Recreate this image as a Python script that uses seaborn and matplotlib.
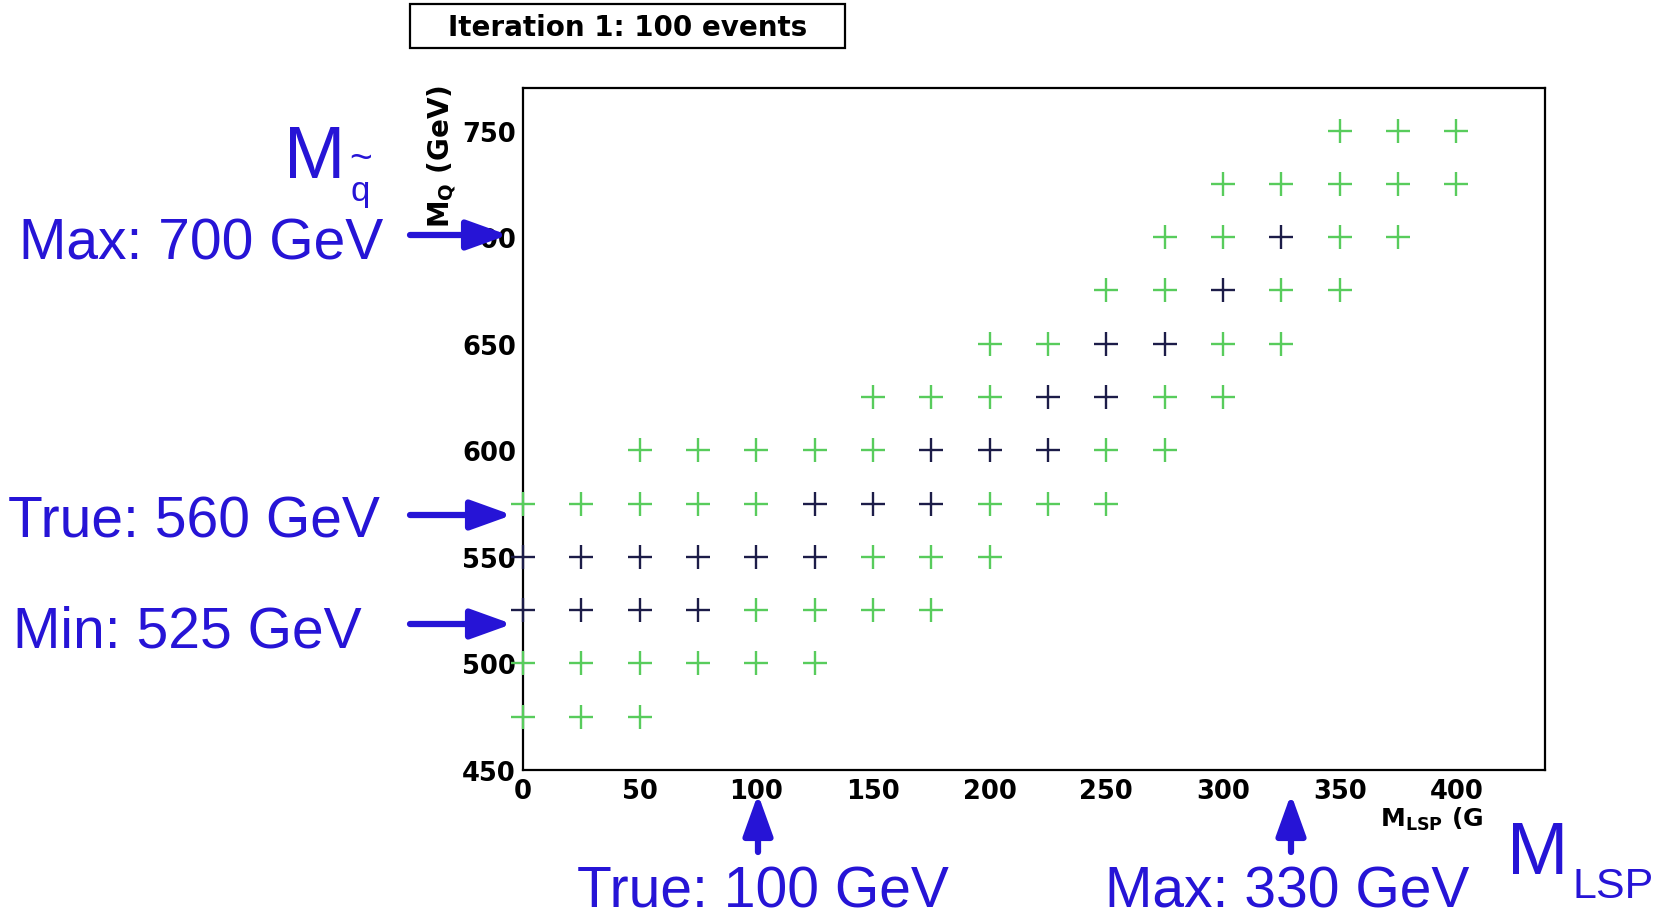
import matplotlib
matplotlib.use("Agg")
import matplotlib.pyplot as plt
from matplotlib.ticker import MultipleLocator
from matplotlib.patches import Rectangle
import pandas as pd
import seaborn as sns

# ---------------- data ----------------
m_lsp = [350, 375, 400,
         300, 325, 350, 375, 400,
         275, 300, 325, 350, 375,
         250, 275, 300, 325, 350,
         200, 225, 250, 275, 300, 325,
         150, 175, 200, 225, 250, 275, 300,
         50, 75, 100, 125, 150, 175, 200, 225, 250, 275,
         0, 25, 50, 75, 100, 125, 150, 175, 200, 225, 250,
         0, 25, 50, 75, 100, 125, 150, 175, 200,
         0, 25, 50, 75, 100, 125, 150, 175,
         0, 25, 50, 75, 100, 125,
         0, 25, 50]
m_squark = [750] * 3 + [725] * 5 + [700] * 5 + [675] * 5 + [650] * 6 + \
           [625] * 7 + [600] * 10 + [575] * 11 + [550] * 9 + [525] * 8 + \
           [500] * 6 + [475] * 3
status = ["scan"] * 3 + \
         ["scan"] * 5 + \
         ["scan", "scan", "best", "scan", "scan"] + \
         ["scan", "scan", "best", "scan", "scan"] + \
         ["scan", "scan", "best", "best", "scan", "scan"] + \
         ["scan", "scan", "scan", "best", "best", "scan", "scan"] + \
         ["scan"] * 5 + ["best"] * 3 + ["scan"] * 2 + \
         ["scan"] * 5 + ["best"] * 3 + ["scan"] * 3 + \
         ["best"] * 6 + ["scan"] * 3 + \
         ["best"] * 4 + ["scan"] * 4 + \
         ["scan"] * 6 + \
         ["scan"] * 3

x_ticks = [0, 50, 100, 150, 200, 250, 300, 350, 400]
y_ticks = [450, 500, 550, 600, 650, 700, 750]
title_text = "Iteration 1: 100 events"
x_title = r"$\mathbf{M_{LSP}}$ (G"
y_title = r"$\mathbf{M_{Q}}$ (GeV)"

left_notes = ["Max: 700 GeV", "True: 560 GeV", "Min: 525 GeV"]
bottom_notes = ["True: 100 GeV", "Max: 330 GeV"]

df = pd.DataFrame({"m_lsp": m_lsp, "m_squark": m_squark, "status": status})

# ---------------- style ----------------
sns.set_style("white")
plt.rcParams["font.family"] = ["DejaVu Sans"]
plt.rcParams["mathtext.fontset"] = "dejavusans"

BLUE = "#2614d6"
GREEN = "#58cc5c"
DARK = "#1c1c48"

fig = plt.figure(figsize=(16.61, 9.2), dpi=100)
fig.patch.set_facecolor("white")

W, H = 1661, 920
ax_l, ax_r, ax_t, ax_b = 523, 1545, 89, 771
ax = fig.add_axes([ax_l / W, 1 - ax_b / H, (ax_r - ax_l) / W, (ax_b - ax_t) / H])

sns.scatterplot(data=df, x="m_lsp", y="m_squark", hue="status",
                palette={"scan": GREEN, "best": DARK},
                marker="+", s=300, linewidth=1.7, legend=False,
                ax=ax, clip_on=False, zorder=3)

ax.set_xlim(0, 438)
ax.set_ylim(450, 770)
ax.set_xticks(x_ticks)
ax.set_yticks(y_ticks)
ax.xaxis.set_minor_locator(MultipleLocator(10))
ax.yaxis.set_minor_locator(MultipleLocator(10))
ax.tick_params(axis="both", which="both", direction="in", color="black",
               labelcolor="black", width=1.5, top=False, right=False)
ax.tick_params(axis="x", which="major", length=16, pad=6)
ax.tick_params(axis="x", which="minor", length=8)
ax.tick_params(axis="y", which="major", length=21, pad=5)
ax.tick_params(axis="y", which="minor", length=12)
for lab in ax.get_xticklabels() + ax.get_yticklabels():
    lab.set_fontsize(18.5)
    lab.set_fontweight("bold")
for sp in ax.spines.values():
    sp.set_visible(True)
    sp.set_color("black")
    sp.set_linewidth(1.6)

ax.set_xlabel(x_title, fontsize=18, fontweight="bold", color="black")
ax.xaxis.set_label_coords((1380 - ax_l) / (ax_r - ax_l), (ax_b - 806) / (ax_b - ax_t))
ax.xaxis.label.set_horizontalalignment("left")
ax.xaxis.label.set_verticalalignment("top")

ax.set_ylabel(y_title, fontsize=20, fontweight="bold", loc="top", color="black")
ax.yaxis.set_label_coords((442 - ax_l) / (ax_r - ax_l), (ax_b - 85) / (ax_b - ax_t))
ax.yaxis.label.set_horizontalalignment("right")
ax.yaxis.label.set_verticalalignment("center")

# ---------------- overlay annotations (pixel coordinates) ----------------
ov = fig.add_axes([0, 0, 1, 1], zorder=10)
ov.set_xlim(0, W)
ov.set_ylim(H, 0)
ov.axis("off")

# title box
ov.add_patch(Rectangle((410, 5), 435, 44, fill=True, facecolor="white",
                       edgecolor="black", linewidth=1.6))
ov.text(627.5, 28, title_text, ha="center", va="center", fontsize=20,
        fontweight="bold", color="black")

blue_font = dict(family=["Liberation Sans", "DejaVu Sans"], color=BLUE)

# squark mass symbol
ov.text(284, 178, "M", fontsize=53, ha="left", va="baseline", **blue_font)
ov.text(361, 160, "~", fontsize=28, ha="center", va="center", **blue_font)
ov.text(350, 201, "q", fontsize=25, ha="left", va="baseline", **blue_font)

left_pos = [(19, 260), (8, 538), (13, 648)]
for txt, (x, y) in zip(left_notes, left_pos):
    ov.text(x, y, txt, fontsize=41, ha="left", va="baseline", **blue_font)

arrow_style = dict(arrowstyle="-|>,head_length=1.25,head_width=0.45",
                   lw=4.5, color=BLUE, mutation_scale=20,
                   shrinkA=0, shrinkB=0)
for (tx, ty), (hx, hy) in [((410, 236), (508, 236)),
                           ((410, 516), (512, 516)),
                           ((410, 625), (512, 625)),
                           ((758, 853), (758, 795)),
                           ((1291, 853), (1291, 795))]:
    ov.annotate("", xy=(hx, hy), xytext=(tx, ty), arrowprops=arrow_style)

bottom_pos = [(577, 908), (1105, 908)]
for txt, (x, y) in zip(bottom_notes, bottom_pos):
    ov.text(x, y, txt, fontsize=41, ha="left", va="baseline", **blue_font)

# LSP mass symbol
ov.text(1507, 874, "M", fontsize=53, ha="left", va="baseline", **blue_font)
ov.text(1572, 898, "LSP", fontsize=31, ha="left", va="baseline", **blue_font)

fig.savefig("out.png", dpi=100, facecolor="white")
